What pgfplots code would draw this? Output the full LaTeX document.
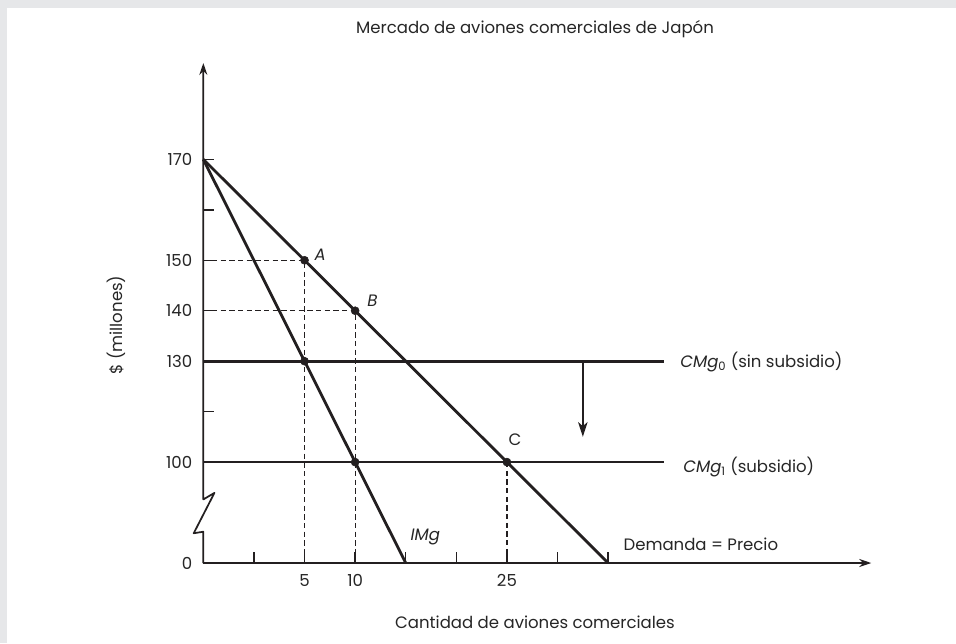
\documentclass[border=0pt]{standalone}
\usepackage{fontspec}
\setmainfont{Poppins}
\usepackage{pgfplots}
\pgfplotsset{compat=1.18}
\usetikzlibrary{arrows.meta}
\definecolor{ink}{HTML}{231F20}
\definecolor{txt}{HTML}{262626}
\definecolor{frame}{HTML}{E6E7E9}

\begin{document}
\fontsize{12.4pt}{15pt}\selectfont
\begin{tikzpicture}
% page: 956x643 px at 0.75pt per px
\useasboundingbox (0,0) rectangle (717pt,482.25pt);
\fill[white] (0,0) rectangle (717pt,482.25pt);
\fill[frame] (0,476.25pt) rectangle (717pt,482.25pt);
\fill[frame] (0,0) rectangle (5.25pt,482.25pt);

\begin{axis}[
    at={(152.5pt,60pt)}, anchor=origin,
    x=37.95pt, y=37.84pt,
    xmin=0, xmax=13.2, ymin=0, ymax=9.91,
    enlargelimits=false, clip=false,
    axis lines=left,
    x axis line style={ink, line width=1.3pt, -{Stealth[length=9pt,width=6pt,inset=3pt]}},
    y axis line style={draw=none},
    xtick={1,...,8}, xticklabels={,5,10,,,25,,},
    ytick={0,2,3,4,5,6,7,8}, yticklabels={0,100,,130,140,150,,170},
    tick align=inside, major tick length=8pt,
    tick style={ink, line width=1.1pt},
    xticklabel style={yshift=-4pt, text=txt},
    yticklabel style={xshift=-4pt, text=txt},
    title={Mercado de aviones comerciales de Japón},
    title style={at={(axis description cs:0.4966,1.0424)}, anchor=base, inner sep=0pt, text=txt},
    xlabel={Cantidad de aviones comerciales},
    xlabel style={at={(axis description cs:0.4966,-0.130)}, anchor=base, inner sep=0pt, text=txt},
    ylabel={\$ (millones)},
    ylabel style={at={(axis description cs:-0.1296,0.476)}, anchor=center, text=txt},
]
% guide lines
\addplot[ink, line width=0.9pt, dash pattern=on 4pt off 2.5pt] coordinates {(0,6) (2,6) (2,0)};
\addplot[ink, line width=0.9pt, dash pattern=on 4pt off 2.5pt] coordinates {(0,5) (3,5) (3,0)};
\addplot[ink, line width=0.9pt, dash pattern=on 4pt off 2.5pt] coordinates {(6,2) (6,0)};
% demand and marginal revenue
\addplot[ink, line width=2.1pt] coordinates {(0,8) (8,0)};
\addplot[ink, line width=2.1pt] coordinates {(0,8) (4,0)};
% marginal cost lines
\addplot[ink, line width=2.1pt] coordinates {(0,4) (9.1,4)};
\addplot[ink, line width=2.1pt] coordinates {(0,2) (9.1,2)};
\addplot[ink, line width=1.8pt, -{Stealth[length=11pt,width=7pt,inset=3pt]}] coordinates {(7.5,4) (7.5,2.5)};
\addplot[only marks, mark=*, mark size=3pt, ink] coordinates {(2,6) (3,5) (2,4) (3,2) (6,2)};

% y axis with break
\draw[ink, line width=1.3pt, line join=round, -{Stealth[length=9pt,width=6pt,inset=3pt]}]
  (axis cs:0,0) -- (axis cs:0,0.62) -- (axis cs:-0.19,0.59) -- (axis cs:0.22,1.39)
  -- (axis cs:0,1.26) -- (axis cs:0,9.91);

\node[font=\itshape, text=txt] at (axis cs:2.31,6.10) {A};
\node[font=\itshape, text=txt] at (axis cs:3.34,5.19) {B};
\node[text=txt] at (axis cs:6.16,2.44) {C};
\node[anchor=west, inner sep=0pt, font=\itshape, text=txt] at (axis cs:4.09,0.525) {IMg};
\node[anchor=base west, inner sep=0pt, text=txt] at (axis cs:8.30,0.238) {Demanda = Precio};
\node[anchor=base west, inner sep=0pt, text=txt] at (axis cs:9.42,3.865) {\textit{CMg}\textsubscript{0} (sin subsidio)};
\node[anchor=base west, inner sep=0pt, text=txt] at (axis cs:9.48,1.80) {\textit{CMg}\textsubscript{1} (subsidio)};
\end{axis}
\end{tikzpicture}
\end{document}
